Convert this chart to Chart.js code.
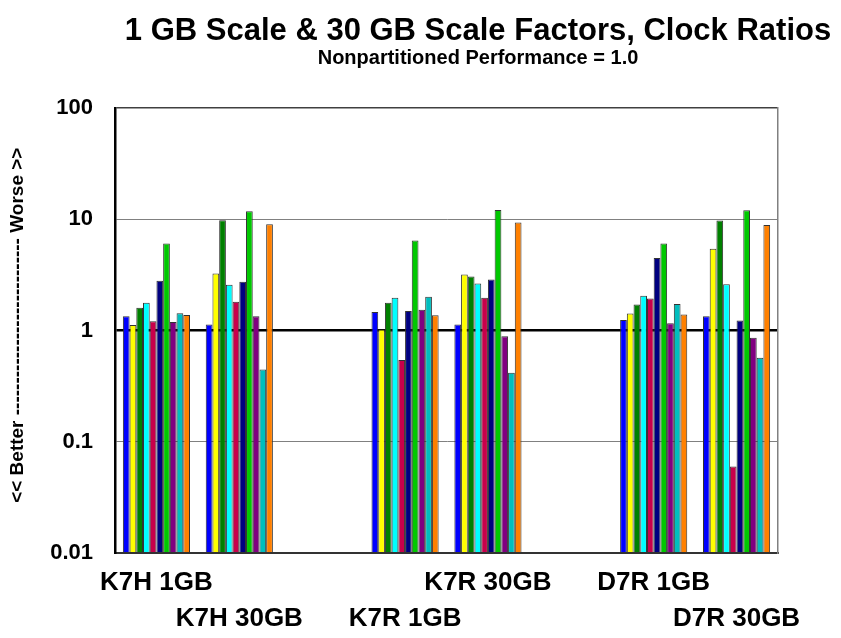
<!DOCTYPE html>
<html>
<head>
<meta charset="utf-8">
<script src="https://cdn.jsdelivr.net/npm/chart.js@4.4.1/dist/chart.umd.min.js"></script>
<style>
  html, body { margin: 0; padding: 0; background: #ffffff; }
  #wrap { width: 841px; height: 638px; }
</style>
</head>
<body>
<div id="wrap"><canvas id="c" width="841" height="638"></canvas></div>
<script>
// ---- data ----
const categories = ['K7H 1GB', 'K7H 30GB', '', 'K7R 1GB', 'K7R 30GB', '', 'D7R 1GB', 'D7R 30GB'];
const yTicks = [0.01, 0.1, 1, 10, 100];

const series1 = [1.34, 1.13, null, 1.47, 1.13, null, 1.24, 1.34];
const series2 = [1.12, 3.26, null, 1.02, 3.18, null, 1.42, 5.44];
const series3 = [1.60, 9.8, null, 1.78, 3.05, null, 1.71, 9.73];
const series4 = [1.78, 2.58, null, 1.97, 2.65, null, 2.05, 2.61];
const series5 = [1.21, 1.81, null, 0.544, 1.97, null, 1.94, 0.060];
const series6 = [2.80, 2.74, null, 1.50, 2.88, null, 4.48, 1.23];
const series7 = [6.04, 11.8, null, 6.43, 12.1, null, 6.04, 12.05];
const series8 = [1.19, 1.34, null, 1.54, 0.89, null, 1.16, 0.86];
const series9 = [1.43, 0.445, null, 2.01, 0.418, null, 1.73, 0.568];
const series10 = [1.38, 9.0, null, 1.37, 9.33, null, 1.39, 8.9];

const seriesNames = ['Series 1','Series 2','Series 3','Series 4','Series 5','Series 6','Series 7','Series 8','Series 9','Series 10'];
const seriesValues = [series1, series2, series3, series4, series5, series6, series7, series8, series9, series10];
const seriesColors = ['#0000FF','#FFFF00','#008000','#00FFFF','#C8004B','#000080','#00C800','#800080','#00BEBE','#FF8000'];

const titleText = '1 GB Scale & 30 GB Scale Factors, Clock Ratios';
const subtitleText = 'Nonpartitioned Performance = 1.0';
const yTitleText = '  << Better ---------------------------- Worse >>';

const FONT = "'Liberation Sans', Arial, Helvetica, sans-serif";

const datasets = seriesValues.map((vals, i) => ({
  label: seriesNames[i],
  data: vals,
  backgroundColor: seriesColors[i],
  borderColor: '#333333',
  borderWidth: 1,
  borderSkipped: false,
  categoryPercentage: 0.81,
  barPercentage: 1.0
}));

new Chart(document.getElementById('c'), {
  type: 'bar',
  data: { labels: categories, datasets: datasets },
  options: {
    responsive: false,
    animation: false,
    devicePixelRatio: 1,
    layout: { padding: { left: 0, right: -115, top: 0, bottom: 0 } },
    plugins: {
      legend: { display: false },
      tooltip: { enabled: false },
      title: {
        display: true,
        text: titleText,
        color: '#000000',
        font: { family: FONT, size: 31, weight: 'bold', lineHeight: 1.1 },
        padding: { top: 14, bottom: 0 }
      },
      subtitle: {
        display: true,
        text: subtitleText,
        color: '#000000',
        font: { family: FONT, size: 20, weight: 'bold', lineHeight: 1.0 },
        padding: { top: 0, bottom: 39.9 }
      }
    },
    scales: {
      x: {
        type: 'category',
        grid: { display: false, drawTicks: false },
        border: { display: true, color: '#333333', width: 2 },
        ticks: {
          autoSkip: false,
          maxRotation: 0,
          minRotation: 0,
          padding: 12,
          color: '#000000',
          font: { family: FONT, size: 26, weight: 'bold', lineHeight: 1.385 },
          callback: function (value, index) {
            const lbl = this.getLabelForValue(value);
            return index % 2 === 1 ? ['', lbl] : lbl;
          }
        },
        afterFit: function (scale) { scale.height = 85; }
      },
      y: {
        type: 'logarithmic',
        position: 'left',
        min: yTicks[0],
        max: yTicks[yTicks.length - 1],
        afterBuildTicks: function (scale) {
          scale.ticks = yTicks.map(v => ({ value: v }));
        },
        grid: {
          drawTicks: false,
          color: function (ctx) {
            const v = ctx.tick && ctx.tick.value;
            if (v === 1) return '#000000';
            if (v === 100) return '#404040';
            return '#808080';
          },
          lineWidth: function (ctx) {
            const v = ctx.tick && ctx.tick.value;
            if (v === 1) return 2.5;
            if (v === 100) return 1.5;
            return 1;
          }
        },
        border: { display: true, color: '#000000', width: 2.5 },
        ticks: {
          padding: 22,
          color: '#000000',
          font: { family: FONT, size: 22, weight: 'bold' },
          callback: function (value) { return String(value); }
        },
        title: {
          display: true,
          text: yTitleText,
          color: '#000000',
          font: { family: FONT, size: 19, weight: 'bold', lineHeight: 1.2 },
          padding: { top: 6, bottom: 0 }
        },
        afterFit: function (scale) { scale.width = 115; }
      },
      yRight: {
        type: 'linear',
        position: 'right',
        display: true,
        grid: { display: false, drawTicks: false },
        border: { display: true, color: '#808080', width: 1.5 },
        ticks: { display: false },
        afterFit: function (scale) { scale.width = 178; }
      }
    }
  }
});
</script>
</body>
</html>
